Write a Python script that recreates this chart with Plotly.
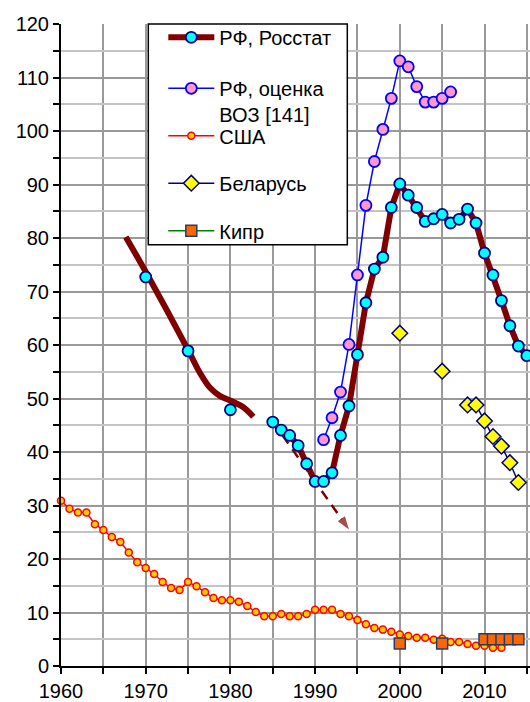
import plotly.graph_objects as go

# ---------------- data ----------------
rosstat_years = list(range(1970, 2016))
rosstat_vals = [72.7, None, None, None, None, 58.9, None, None, None, None,
                47.9, None, None, None, None,
                45.6, 44.1, 43.1, 41.2, 37.8, 34.5, 34.5, 36.1, 43.1, 48.6,
                58.2, 67.9, 74.2, 76.4, 85.7, 90.1, 88.0, 85.7, 83.1, 83.6,
                84.4, 82.8, 83.5, 85.4, 82.8, 77.2, 73.1, 68.3, 63.6, 59.8, 58.0]

trend_years = [1967.65, 1970.1, 1975.0, 1976.4, 1977.6, 1978.75, 1980.3, 1981.5, 1982.7]
trend_vals = [80.2, 73.4, 59.1, 54.8, 52.0, 50.5, 49.4, 48.4, 46.6]

extrap_years = [1985, 1994.0]
extrap_vals = [45.7, 25.5]

who_years = list(range(1991, 2007))
who_vals = [42.3, 46.4, 51.2, 60.1, 73.1, 86.1, 94.3, 100.3, 106.1, 113.1,
            112.0, 108.3, 105.4, 105.4, 106.1, 107.3]

usa_years = list(range(1960, 2013))
usa_vals = [30.9, 29.4, 28.7, 28.7, 26.5, 25.4, 24.1, 23.2, 21.2, 19.4,
            18.3, 17.2, 15.7, 14.6, 14.2, 15.7, 14.9, 13.8, 12.7, 12.3,
            12.3, 12.0, 11.2, 10.1, 9.3, 9.3, 9.7, 9.3, 9.3, 9.7,
            10.5, 10.5, 10.5, 9.7, 9.3, 8.6, 7.8, 7.1, 6.8, 6.4,
            5.9, 5.6, 5.3, 5.3, 4.9, 5.1, 4.5, 4.5, 4.1, 3.8,
            3.8, 3.4, 3.4]

belarus_years = list(range(2000, 2015))
belarus_vals = [62.2, None, None, None, None, 55.1, None, None,
                48.8, 48.8, 45.8, 42.9, 41.1, 38.0, 34.3]

cyprus_years = list(range(2000, 2015))
cyprus_vals = [4.2, None, None, None, None, 4.2, None, None, None, None,
               5.0, 5.0, 5.0, 5.0, 5.0]

x_ticks = [1960, 1970, 1980, 1990, 2000, 2010]
y_ticks = list(range(0, 121, 10))

# ---------------- figure ----------------
FONT = "Liberation Sans, Arial, sans-serif"
MAROON = "#800000"
NAVY = "#000080"

fig = go.Figure()

fig.add_trace(go.Scatter(
    x=usa_years, y=usa_vals, name="США", mode="lines+markers",
    line=dict(color="#ff0000", width=1.5),
    marker=dict(symbol="circle", size=7, color="#ffcc00",
                line=dict(color="#ff0000", width=1.5)),
    legend="legend2", legendgroup="usa", legendrank=3, cliponaxis=False))

fig.add_trace(go.Scatter(
    x=belarus_years, y=belarus_vals, name="Беларусь", mode="lines+markers",
    line=dict(color=NAVY, width=1.5), connectgaps=False,
    marker=dict(symbol="diamond", size=12, color="#ffff00",
                line=dict(color=NAVY, width=1.5)),
    legend="legend2", legendgroup="by", legendrank=4, cliponaxis=False))

fig.add_trace(go.Scatter(
    x=cyprus_years, y=cyprus_vals, name="Кипр", mode="lines+markers",
    line=dict(color="#008000", width=1.5), connectgaps=False,
    marker=dict(symbol="square", size=11, color="#ff6600",
                line=dict(color="#1f3f6f", width=1.5)),
    legend="legend2", legendgroup="cy", legendrank=5, cliponaxis=False))

fig.add_trace(go.Scatter(
    x=who_years, y=who_vals, name="РФ, оценка<br>ВОЗ [141]", mode="lines+markers",
    line=dict(color="#0000ff", width=1.5),
    marker=dict(symbol="circle", size=11, color="#ff99cc",
                line=dict(color="#0000ff", width=1.8)),
    legend="legend", legendgroup="who", legendrank=2, cliponaxis=False))

fig.add_trace(go.Scatter(
    x=extrap_years, y=extrap_vals, mode="lines+markers", showlegend=False,
    line=dict(color=MAROON, width=2.5, dash="10px,7px"),
    marker=dict(symbol=["circle", "arrow"], size=[0, 14], color=MAROON,
                angleref="previous", line=dict(width=0)),
    hoverinfo="skip"))

fig.add_trace(go.Scatter(
    x=trend_years, y=trend_vals, mode="lines", showlegend=False,
    line=dict(color=MAROON, width=6, shape="spline", smoothing=1.0),
    hoverinfo="skip"))

fig.add_trace(go.Scatter(
    x=rosstat_years, y=rosstat_vals, name="РФ, Росстат", mode="lines+markers",
    line=dict(color=MAROON, width=6), connectgaps=False,
    marker=dict(symbol="circle", size=11, color="#00ffff",
                line=dict(color=NAVY, width=1.8)),
    legend="legend", legendgroup="rs", legendrank=1, cliponaxis=False))

W, H = 530, 702
L, R, T, B = 61, 0, 24, 32
PW, PH = W - L - R, H - T - B


def px_x(p):
    return (p - L) / PW


def px_y(p):
    return (H - B - p) / PH


# legend frame
fig.add_shape(type="rect", xref="paper", yref="paper",
              x0=px_x(148.3), x1=px_x(347.3), y0=px_y(246), y1=px_y(24),
              fillcolor="white", line=dict(color="black", width=1.5),
              layer="above")

legend_common = dict(
    bgcolor="rgba(0,0,0,0)", borderwidth=0,
    font=dict(family=FONT, size=20, color="black"),
    xanchor="left", yanchor="top", itemwidth=46,
    traceorder="grouped", orientation="v",
)

fig.update_layout(
    width=W, height=H,
    margin=dict(l=L, r=R, t=T, b=B),
    paper_bgcolor="white", plot_bgcolor="white",
    font=dict(family=FONT, size=20, color="black"),
    showlegend=True,
    legend=dict(x=px_x(163.3), y=px_y(17.8), tracegroupgap=22,
                valign="top", **legend_common),
    legend2=dict(x=px_x(163.3), y=px_y(116.8), tracegroupgap=18.5,
                 valign="middle", **legend_common),
    xaxis=dict(
        range=[1960, 1960 + PW / 8.47], tickmode="array", tickvals=x_ticks,
        ticktext=[str(v) for v in x_ticks],
        ticks="outside", ticklen=6, tickwidth=1.5, tickcolor="black",
        showline=True, linecolor="black", linewidth=2,
        showgrid=True, gridcolor="#999999", gridwidth=1.5,
        minor=dict(dtick=5, tick0=1960, ticks="outside", ticklen=6, tickwidth=1.5,
                   tickcolor="black", showgrid=True, gridcolor="#999999", gridwidth=1.5),
        zeroline=False, tickfont=dict(family=FONT, size=20, color="black"),
        fixedrange=True,
    ),
    yaxis=dict(
        range=[0, 120], tickmode="array", tickvals=y_ticks,
        ticks="outside", ticklen=6, tickwidth=1.5, tickcolor="black",
        showline=True, linecolor="black", linewidth=2,
        showgrid=True, gridcolor="#999999", gridwidth=1.5,
        minor=dict(dtick=5, tick0=0, ticks="outside", ticklen=6, tickwidth=1.5,
                   tickcolor="black", showgrid=True, gridcolor="#c4c4c4", gridwidth=1.5),
        zeroline=False, tickfont=dict(family=FONT, size=20, color="black"),
        fixedrange=True,
    ),
)

fig.write_html(
    "out.html",
    config={"displayModeBar": False},
    post_script="document.body.style.margin='0';document.body.style.overflow='hidden';",
)
